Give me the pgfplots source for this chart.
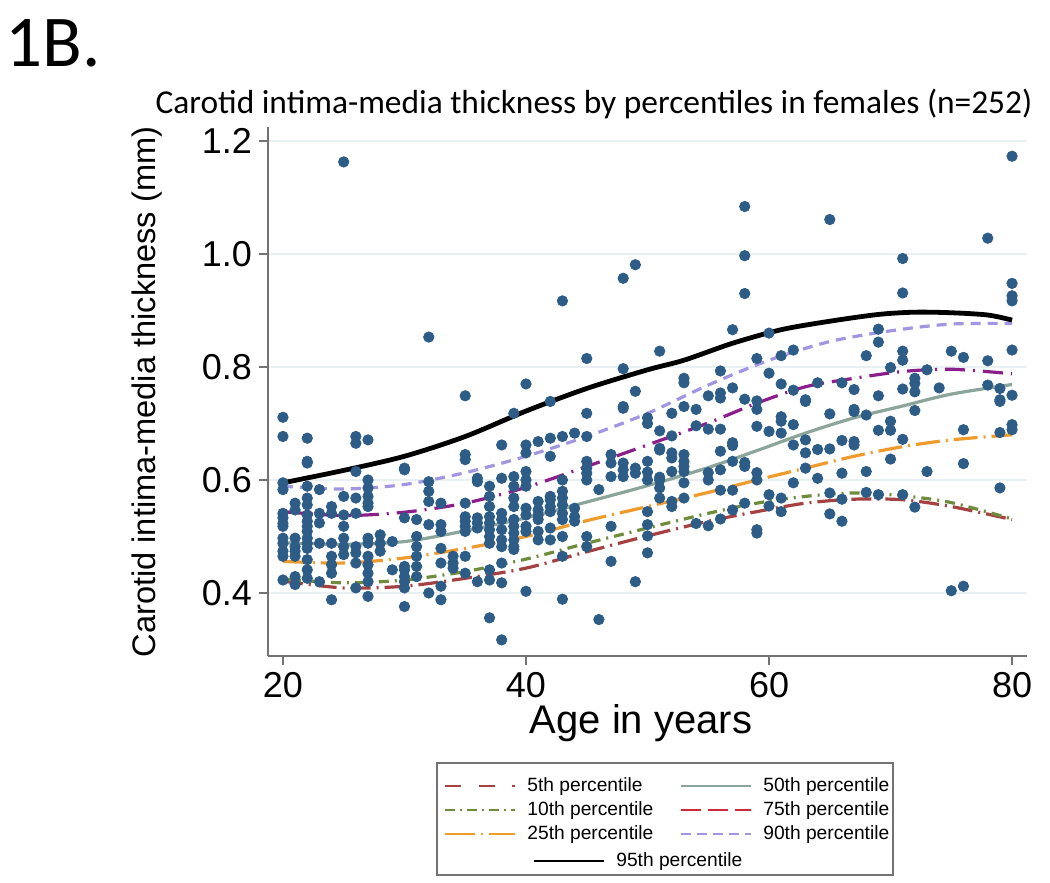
\documentclass[border=0pt]{standalone}
\usepackage{fontspec}
\setmainfont{Liberation Sans}
\newfontfamily\calibri{Carlito}
\usepackage{pgfplots}
\pgfplotsset{compat=1.18}

\definecolor{dotblue}{RGB}{45,93,135}
\definecolor{gridc}{RGB}{232,240,242}
\definecolor{axisc}{RGB}{115,115,115}
\definecolor{cfive}{RGB}{165,65,65}
\definecolor{cten}{RGB}{110,140,60}
\definecolor{ctwentyfive}{RGB}{240,155,45}
\definecolor{cfifty}{RGB}{140,165,155}
\definecolor{cseventyfive}{RGB}{140,30,140}
\definecolor{cseventyfiveleg}{RGB}{205,40,60}
\definecolor{customlav}{RGB}{160,150,225}

% scatter: age, cIMT (mm)
\pgfplotstableread{
age val
20 0.711
20 0.677
20 0.595
20 0.583
20 0.541
20 0.533
20 0.523
20 0.518
20 0.497
20 0.488
20 0.474
20 0.465
20 0.423
21 0.559
21 0.547
21 0.497
21 0.482
21 0.474
21 0.465
21 0.429
21 0.415
22 0.674
22 0.633
22 0.630
22 0.589
22 0.568
22 0.556
22 0.538
22 0.527
22 0.518
22 0.509
22 0.497
22 0.488
22 0.479
22 0.459
22 0.441
22 0.426
23 0.583
23 0.541
23 0.524
23 0.488
23 0.420
24 0.553
24 0.541
24 0.488
24 0.465
24 0.450
24 0.435
24 0.388
25 1.163
25 0.571
25 0.538
25 0.518
25 0.497
25 0.482
25 0.468
26 0.677
26 0.665
26 0.615
26 0.568
26 0.541
26 0.482
26 0.471
26 0.453
26 0.409
27 0.671
27 0.600
27 0.586
27 0.571
27 0.559
27 0.553
27 0.497
27 0.488
27 0.465
27 0.450
27 0.435
27 0.420
27 0.394
28 0.503
28 0.488
28 0.474
29 0.491
29 0.441
30 0.621
30 0.618
30 0.533
30 0.447
30 0.441
30 0.429
30 0.420
30 0.409
30 0.376
31 0.530
31 0.500
31 0.482
31 0.465
31 0.447
31 0.429
32 0.853
32 0.597
32 0.580
32 0.562
32 0.521
32 0.400
33 0.559
33 0.521
33 0.509
33 0.479
33 0.453
33 0.412
33 0.388
34 0.465
34 0.453
34 0.444
35 0.749
35 0.645
35 0.636
35 0.559
35 0.535
35 0.527
35 0.518
35 0.509
35 0.465
35 0.435
36 0.603
36 0.597
36 0.533
36 0.524
36 0.515
36 0.420
37 0.589
37 0.571
37 0.553
37 0.535
37 0.524
37 0.512
37 0.500
37 0.488
37 0.441
37 0.423
37 0.356
38 0.662
38 0.603
38 0.541
38 0.530
38 0.512
38 0.494
38 0.482
38 0.453
38 0.418
38 0.317
39 0.718
39 0.606
39 0.589
39 0.568
39 0.553
39 0.530
39 0.518
39 0.506
39 0.494
39 0.482
39 0.477
40 0.770
40 0.662
40 0.648
40 0.615
40 0.600
40 0.589
40 0.550
40 0.538
40 0.518
40 0.509
40 0.403
41 0.668
41 0.562
41 0.547
41 0.538
41 0.530
41 0.509
41 0.494
42 0.739
42 0.674
42 0.642
42 0.571
42 0.565
42 0.553
42 0.544
42 0.515
42 0.494
43 0.917
43 0.677
43 0.600
43 0.580
43 0.568
43 0.556
43 0.541
43 0.530
43 0.500
43 0.465
43 0.389
44 0.683
44 0.550
44 0.535
44 0.527
45 0.815
45 0.718
45 0.677
45 0.633
45 0.621
45 0.612
45 0.600
45 0.500
45 0.482
46 0.583
46 0.353
47 0.645
47 0.630
47 0.606
47 0.518
47 0.456
48 0.957
48 0.797
48 0.730
48 0.727
48 0.630
48 0.618
48 0.606
49 0.981
49 0.757
49 0.621
49 0.612
49 0.420
50 0.710
50 0.700
50 0.633
50 0.614
50 0.600
50 0.544
50 0.521
50 0.501
50 0.471
51 0.828
51 0.687
51 0.656
51 0.653
51 0.605
51 0.600
51 0.586
51 0.568
52 0.718
52 0.678
52 0.648
52 0.639
52 0.615
52 0.562
52 0.553
53 0.780
53 0.772
53 0.730
53 0.645
53 0.633
53 0.624
53 0.615
53 0.595
53 0.568
54 0.725
54 0.696
54 0.523
55 0.749
55 0.690
55 0.613
55 0.600
55 0.519
56 0.793
56 0.754
56 0.745
56 0.690
56 0.651
56 0.618
56 0.582
56 0.531
57 0.866
57 0.763
57 0.666
57 0.661
57 0.633
57 0.582
57 0.547
58 1.084
58 0.997
58 0.930
58 0.743
58 0.631
58 0.624
58 0.559
59 0.815
59 0.740
59 0.725
59 0.695
59 0.613
59 0.600
59 0.512
59 0.506
60 0.860
60 0.789
60 0.686
60 0.574
60 0.554
61 0.820
61 0.770
61 0.712
61 0.704
61 0.683
61 0.568
61 0.544
62 0.830
62 0.759
62 0.698
62 0.662
62 0.595
63 0.742
63 0.739
63 0.671
63 0.648
63 0.621
64 0.772
64 0.654
64 0.603
65 1.061
65 0.717
65 0.655
65 0.577
65 0.540
66 0.772
66 0.670
66 0.612
66 0.566
66 0.527
67 0.760
67 0.725
67 0.721
67 0.668
67 0.662
68 0.820
68 0.715
68 0.615
68 0.578
69 0.867
69 0.844
69 0.749
69 0.688
69 0.574
70 0.799
70 0.704
70 0.688
70 0.637
71 0.992
71 0.931
71 0.828
71 0.812
71 0.761
71 0.672
71 0.574
72 0.780
72 0.771
72 0.756
72 0.723
72 0.552
73 0.795
73 0.615
74 0.763
75 0.828
75 0.404
76 0.817
76 0.689
76 0.629
76 0.412
78 1.028
78 0.811
78 0.768
79 0.762
79 0.742
79 0.739
79 0.684
79 0.586
80 1.173
80 0.948
80 0.926
80 0.917
80 0.830
80 0.750
80 0.698
80 0.689
}\scatterdata

\begin{document}
\begin{tikzpicture}[x=1pt,y=1pt]
\useasboundingbox (0,0) rectangle (525,441.5);

\node[anchor=base west, inner sep=0, font=\calibri\fontsize{36.5}{36.5}\selectfont] at (2.5,408) {1B.};
\node[anchor=base, inner sep=0, font=\calibri\fontsize{16.7}{16.7}\selectfont] at (297,384.5)
  {Carotid intima-media thickness by percentiles in females (n=252)};

\begin{axis}[
  at={(134pt,113.5pt)}, anchor=south west,
  scale only axis, width=379.5pt, height=264.5pt,
  xmin=18.77, xmax=81.23, ymin=0.2885, ymax=1.2248,
  axis x line*=bottom, axis y line*=left,
  axis line style={-, axisc, line width=0.75pt},
  tick style={axisc, line width=0.75pt},
  tick align=outside, major tick length=4.5pt,
  xtick={20,40,60,80}, ytick={0.4,0.6,0.8,1.0,1.2},
  ymajorgrids, grid style={gridc, line width=0.6pt},
  /pgf/number format/assume math mode=true,
  yticklabel style={/pgf/number format/.cd, fixed, fixed zerofill, precision=1},
  tick label style={font=\fontsize{18}{18}\selectfont},
  xlabel={Age in years},
  xlabel style={at={(axis description cs:0.4914,-0.1267)}, anchor=center, font=\fontsize{20}{20}\selectfont},
  ylabel={Carotid intima-media thickness (mm)},
  ylabel style={at={(axis description cs:-0.1594,0.499)}, anchor=center, font=\fontsize{16.3}{16.3}\selectfont},
  legend columns=2,
  legend cell align=left,
  legend style={at={(axis description cs:0.2319,-0.2268)}, anchor=north west,
    draw=none, fill=none, inner sep=0pt,
    font=\fontsize{9.6}{11}\selectfont,
    nodes={inner sep=0.5pt}, row sep=2.5pt,
    /tikz/every odd column/.append style={column sep=5pt},
    /tikz/every even column/.append style={column sep=13pt}},
  legend image code/.code={\draw[#1] (0pt,0pt) -- (35pt,0pt);},
]
\addplot[only marks, mark=*, mark size=2.6pt, mark options={fill=dotblue, draw=dotblue}, forget plot]
  table[x=age, y=val] {\scatterdata};

% 5th
\addplot[color=cfive, line width=1.6pt, smooth, dash pattern=on 10pt off 3pt on 1pt off 3pt, forget plot] coordinates {
(20,0.421) (25,0.409) (30,0.412) (35,0.426) (40,0.444) (45,0.473) (50,0.501) (55,0.527)
(59,0.544) (63,0.559) (67,0.566) (71,0.565) (75,0.553) (80,0.530)};
% 10th
\addplot[color=cten, line width=1.6pt, smooth, dash pattern=on 5pt off 3pt on 1pt off 3pt, forget plot] coordinates {
(20,0.425) (25,0.418) (30,0.423) (35,0.438) (40,0.460) (45,0.488) (50,0.515) (55,0.541)
(59,0.559) (63,0.571) (67,0.577) (71,0.572) (75,0.560) (80,0.531)};
% 25th
\addplot[color=ctwentyfive, line width=1.6pt, smooth, dash pattern=on 12pt off 3pt on 1pt off 3pt, forget plot] coordinates {
(20,0.456) (25,0.453) (30,0.462) (35,0.479) (40,0.500) (45,0.528) (50,0.553) (55,0.578)
(59,0.600) (63,0.621) (67,0.642) (71,0.659) (75,0.671) (80,0.680)};
% 50th
\addplot[color=cfifty, line width=1.6pt, smooth, forget plot] coordinates {
(20,0.489) (25,0.486) (30,0.491) (35,0.510) (40,0.533) (45,0.561) (50,0.590) (55,0.622)
(59,0.652) (63,0.683) (67,0.710) (71,0.731) (75,0.752) (80,0.769)};
% 75th
\addplot[color=cseventyfive, line width=1.6pt, smooth, dash pattern=on 10pt off 4pt on 1pt off 4pt, forget plot] coordinates {
(20,0.544) (25,0.537) (30,0.543) (35,0.559) (40,0.587) (45,0.624) (50,0.662) (55,0.701)
(59,0.736) (63,0.765) (67,0.780) (71,0.792) (75,0.796) (80,0.788)};
% 90th
\addplot[color=customlav, line width=1.6pt, smooth, dash pattern=on 5pt off 3.5pt, forget plot] coordinates {
(20,0.589) (25,0.584) (30,0.592) (35,0.613) (40,0.642) (45,0.677) (50,0.718) (55,0.768)
(60,0.812) (65,0.845) (70,0.864) (75,0.876) (80,0.877)};
% 95th
\addplot[color=black, line width=2.4pt, smooth, forget plot] coordinates {
(20,0.595) (25,0.617) (30,0.642) (35,0.677) (40,0.722) (45,0.762) (50,0.795) (53,0.812)
(57,0.842) (61,0.866) (65,0.881) (69,0.893) (72,0.897) (75,0.896) (78,0.892) (80,0.883)};

\addlegendimage{color=cfive, line width=1pt, dash pattern=on 8pt off 9pt on 8pt off 8.5pt on 1.5pt off 2pt}
\addlegendentry{5th percentile}
\addlegendimage{color=cfifty, line width=1pt}
\addlegendentry{50th percentile}
\addlegendimage{color=cten, line width=1pt, dash pattern=on 5pt off 2.5pt on 1pt off 2.5pt}
\addlegendentry{10th percentile}
\addlegendimage{color=cseventyfiveleg, line width=1pt, dash pattern=on 10pt off 3.5pt}
\addlegendentry{75th percentile}
\addlegendimage{color=ctwentyfive, line width=1pt, dash pattern=on 15pt off 3pt on 1pt off 3pt}
\addlegendentry{25th percentile}
\addlegendimage{color=customlav, line width=1pt, dash pattern=on 5pt off 3pt}
\addlegendentry{90th percentile}
\end{axis}

\begin{axis}[
  at={(134pt,113.5pt)}, anchor=south west,
  scale only axis, width=379.5pt, height=264.5pt,
  xmin=0, xmax=1, ymin=0, ymax=1, hide axis,
  legend style={at={(axis description cs:0.3491,-0.3686)}, anchor=north west,
    draw=none, fill=none, inner sep=0pt,
    font=\fontsize{9.6}{11}\selectfont,
    nodes={inner sep=0.5pt},
    /tikz/every odd column/.append style={column sep=5pt}},
  legend image code/.code={\draw[#1] (0pt,0pt) -- (35pt,0pt);},
]
\addlegendimage{color=black, line width=1pt}
\addlegendentry{95th percentile}
\end{axis}

\draw[axisc, line width=0.6pt] (218.5,60) rectangle (446.5,4);
\end{tikzpicture}
\end{document}
